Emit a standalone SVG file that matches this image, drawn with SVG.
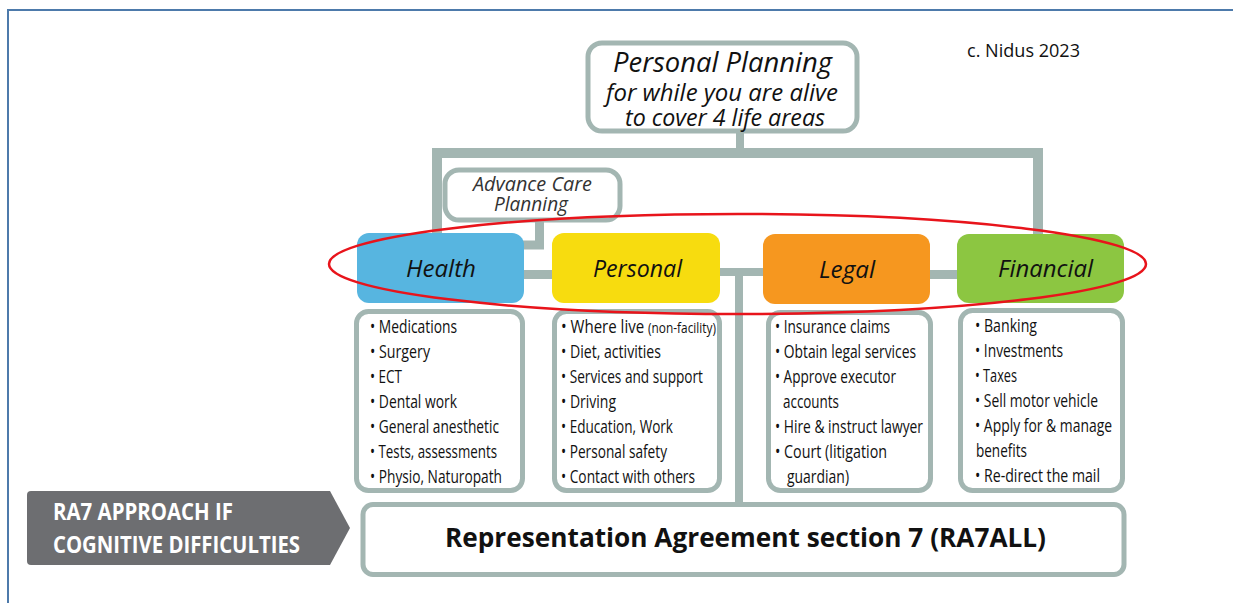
<svg xmlns="http://www.w3.org/2000/svg" width="1233" height="603" viewBox="0 0 1233 603">
<style>
  .frame{fill:none;stroke:#4d7aab;stroke-width:2}
  .conn{fill:none;stroke:#a3b6b2;stroke-linejoin:miter}
  .outline{fill:#fff;stroke:#a3b6b2;stroke-width:5}
  .t{font-family:"Open Sans","Noto Sans",sans-serif;fill:#111}
  .it{font-style:italic}
  .li{font-size:19px}
  .hd{font-size:24px;font-style:italic}
  .bold{font-weight:bold}
</style>
<rect x="0" y="0" width="1233" height="603" fill="#fff"/>
<rect class="frame" x="8" y="10" width="1240" height="610"/>

<g id="connectors">
  <path class="conn" stroke-width="8" d="M740,131 V153"/>
  <path class="conn" stroke-width="10" d="M437,236 V153 H1038 V236"/>
  <path class="conn" stroke-width="9" d="M539.5,220 V245 H522"/>
  <path class="conn" stroke-width="9" d="M522,274.5 H555"/>
  <path class="conn" stroke-width="8" d="M718,272 H765"/>
  <path class="conn" stroke-width="8" d="M739,272 V507"/>
  <path class="conn" stroke-width="9" d="M928,274.5 H959"/>
</g>

<g id="personal-planning">
  <rect class="outline" x="588" y="43" width="269" height="88" rx="14"/>
  <text class="t it" x="613" y="72" font-size="28" textLength="219" lengthAdjust="spacingAndGlyphs">Personal Planning</text>
  <text class="t it" x="606" y="101" font-size="23" textLength="232" lengthAdjust="spacingAndGlyphs">for while you are alive</text>
  <text class="t it" x="625" y="126" font-size="23" textLength="200" lengthAdjust="spacingAndGlyphs">to cover 4 life areas</text>
</g>

<g id="credit">
  <text class="t" x="967" y="57" font-size="18" textLength="113" lengthAdjust="spacingAndGlyphs">c. Nidus 2023</text>
</g>

<g id="advance-care-planning">
  <rect class="outline" x="445" y="170" width="175" height="50" rx="14" stroke-width="4.5"/>
  <text class="t it" x="473" y="191" font-size="19.5" style="fill:#333" textLength="119" lengthAdjust="spacingAndGlyphs">Advance Care</text>
  <text class="t it" x="494" y="211" font-size="19.5" style="fill:#333" textLength="74" lengthAdjust="spacingAndGlyphs">Planning</text>
</g>

<g id="health">
  <rect x="357" y="233" width="167" height="70" rx="12" fill="#57b5e0"/>
  <text class="t hd" x="406" y="277" textLength="70" lengthAdjust="spacingAndGlyphs">Health</text>
</g>
<g id="personal">
  <rect x="552" y="233" width="168" height="70" rx="12" fill="#f7dc0f"/>
  <text class="t hd" x="593" y="277" textLength="89" lengthAdjust="spacingAndGlyphs">Personal</text>
</g>
<g id="legal">
  <rect x="763" y="234" width="167" height="70" rx="12" fill="#f6971f"/>
  <text class="t hd" x="819" y="278" textLength="56" lengthAdjust="spacingAndGlyphs">Legal</text>
</g>
<g id="financial">
  <rect x="957" y="234" width="167" height="69" rx="12" fill="#8cc641"/>
  <text class="t hd" x="998" y="277" textLength="95" lengthAdjust="spacingAndGlyphs">Financial</text>
</g>

<g id="health-list">
  <rect class="outline" x="356.5" y="311.5" width="166" height="179" rx="12"/>
  <text class="t li" x="370" y="333" textLength="87" lengthAdjust="spacingAndGlyphs">• Medications</text>
  <text class="t li" x="370" y="358" textLength="60" lengthAdjust="spacingAndGlyphs">• Surgery</text>
  <text class="t li" x="370" y="383" textLength="32" lengthAdjust="spacingAndGlyphs">• ECT</text>
  <text class="t li" x="370" y="408" textLength="87" lengthAdjust="spacingAndGlyphs">• Dental work</text>
  <text class="t li" x="370" y="433" textLength="129" lengthAdjust="spacingAndGlyphs">• General anesthetic</text>
  <text class="t li" x="370" y="458" textLength="127" lengthAdjust="spacingAndGlyphs">• Tests, assessments</text>
  <text class="t li" x="370" y="483" textLength="132" lengthAdjust="spacingAndGlyphs">• Physio, Naturopath</text>
</g>

<g id="personal-list">
  <rect class="outline" x="554.5" y="311.5" width="165" height="179" rx="12"/>
  <text class="t li" x="561" y="333" textLength="155" lengthAdjust="spacingAndGlyphs">• Where live <tspan font-size="15">(non-facility)</tspan></text>
  <text class="t li" x="561" y="358" textLength="100" lengthAdjust="spacingAndGlyphs">• Diet, activities</text>
  <text class="t li" x="561" y="383" textLength="142" lengthAdjust="spacingAndGlyphs">• Services and support</text>
  <text class="t li" x="561" y="408" textLength="55" lengthAdjust="spacingAndGlyphs">• Driving</text>
  <text class="t li" x="561" y="433" textLength="112" lengthAdjust="spacingAndGlyphs">• Education, Work</text>
  <text class="t li" x="561" y="458" textLength="106" lengthAdjust="spacingAndGlyphs">• Personal safety</text>
  <text class="t li" x="561" y="483" textLength="134" lengthAdjust="spacingAndGlyphs">• Contact with others</text>
</g>

<g id="legal-list">
  <rect class="outline" x="768.5" y="312.5" width="162" height="178" rx="12"/>
  <text class="t li" x="775" y="333" textLength="115" lengthAdjust="spacingAndGlyphs">• Insurance claims</text>
  <text class="t li" x="775" y="358" textLength="141" lengthAdjust="spacingAndGlyphs">• Obtain legal services</text>
  <text class="t li" x="775" y="383" textLength="121" lengthAdjust="spacingAndGlyphs">• Approve executor</text>
  <text class="t li" x="783" y="408" textLength="56" lengthAdjust="spacingAndGlyphs">accounts</text>
  <text class="t li" x="775" y="433" textLength="148" lengthAdjust="spacingAndGlyphs">• Hire &amp; instruct lawyer</text>
  <text class="t li" x="775" y="458" textLength="112" lengthAdjust="spacingAndGlyphs">• Court (litigation</text>
  <text class="t li" x="787" y="483" textLength="62" lengthAdjust="spacingAndGlyphs">guardian)</text>
</g>

<g id="financial-list">
  <rect class="outline" x="960.5" y="310.5" width="162" height="180" rx="12"/>
  <text class="t li" x="975" y="332" textLength="62" lengthAdjust="spacingAndGlyphs">• Banking</text>
  <text class="t li" x="975" y="357" textLength="88" lengthAdjust="spacingAndGlyphs">• Investments</text>
  <text class="t li" x="975" y="382" textLength="42" lengthAdjust="spacingAndGlyphs">• Taxes</text>
  <text class="t li" x="975" y="407" textLength="123" lengthAdjust="spacingAndGlyphs">• Sell motor vehicle</text>
  <text class="t li" x="975" y="432" textLength="137" lengthAdjust="spacingAndGlyphs">• Apply for &amp; manage</text>
  <text class="t li" x="976" y="457" textLength="51" lengthAdjust="spacingAndGlyphs">benefits</text>
  <text class="t li" x="975" y="482" textLength="125" lengthAdjust="spacingAndGlyphs">• Re-direct the mail</text>
</g>

<g id="ra7-label">
  <path d="M31,491 H330 L350,528 L330,565 H31 Q27,565 27,561 V495 Q27,491 31,491 Z" fill="#6d6e71"/>
  <text class="t bold" x="53" y="520" font-size="24" style="fill:#fff" textLength="180" lengthAdjust="spacingAndGlyphs">RA7 APPROACH IF</text>
  <text class="t bold" x="53" y="553" font-size="24" style="fill:#fff" textLength="247" lengthAdjust="spacingAndGlyphs">COGNITIVE DIFFICULTIES</text>
</g>

<g id="ra7all">
  <rect class="outline" x="363" y="504.5" width="761" height="70" rx="10"/>
  <text class="t bold" x="445" y="547" font-size="27" textLength="601" lengthAdjust="spacingAndGlyphs">Representation Agreement section 7 (RA7ALL)</text>
</g>

<g id="highlight">
  <ellipse cx="737.5" cy="264" rx="408.5" ry="50" fill="none" stroke="#e8141b" stroke-width="2.5"/>
</g>
</svg>
